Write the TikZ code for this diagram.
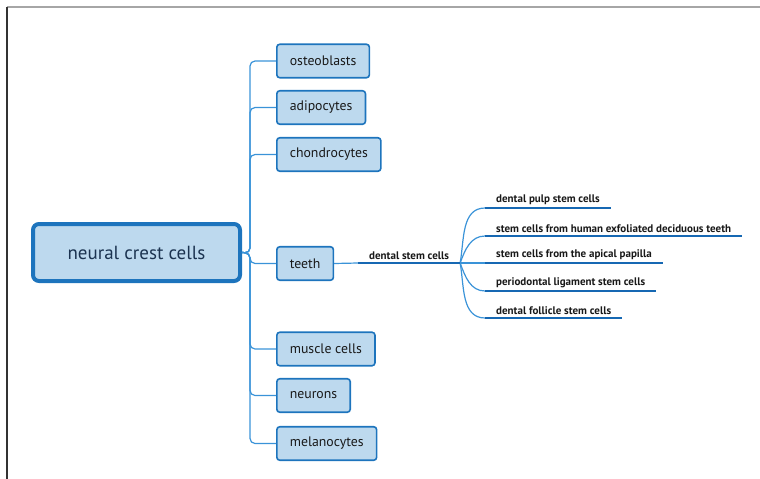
\documentclass[tikz,border=0pt]{standalone}
\usepackage{fontspec}
\setmainfont{PT Sans}
\usetikzlibrary{positioning}
\definecolor{boxblue}{HTML}{1D74BD}
\definecolor{boxfill}{HTML}{BDD9EE}
\definecolor{linkblue}{HTML}{3A93D8}
\definecolor{lineblue}{HTML}{1668B3}
\definecolor{txtnavy}{HTML}{1B3350}

\begin{document}
\begin{tikzpicture}[x=1pt, y=-1pt,
    cellbox/.style={draw=boxblue, line width=1.6pt, fill=boxfill, rounded corners=3pt, minimum height=33.5pt, anchor=west, inner xsep=13pt, font=\fontsize{13.8}{16}\selectfont, text=black!90},
    rootbox/.style={draw=boxblue, line width=4pt, fill=boxfill, rounded corners=6pt, minimum width=207pt, minimum height=57pt, font=\fontsize{19}{22}\selectfont, text=txtnavy},
    link/.style={draw=linkblue, line width=1.2pt, rounded corners=5pt},
    subitem/.style={anchor=south west, inner xsep=11pt, inner ysep=3pt, font=\bfseries\fontsize{11}{13}\selectfont, text=black!90},
    uline/.style={draw=lineblue, line width=2.4pt}]

    \useasboundingbox (0,0) rectangle (760,479);

    % Frame
    \draw[gray!70, line width=1.2pt] (7,7) -- (760,7);
    \draw[black!80, line width=1.2pt] (7,7) -- (7,479);

    % Root
    \node[rootbox] (root) at (136.5,252.5) {neural crest cells};
    \coordinate (hub) at (250,253);

    % Cell types
    \node[cellbox] (osteo) at (276,61) {osteoblasts};
    \node[cellbox] (adipo) at (276,107.5) {adipocytes};
    \node[cellbox] (chondro) at (276,154.5) {chondrocytes};
    \node[cellbox] (teeth) at (276,263.5) {teeth};
    \node[cellbox] (muscle) at (276,349) {muscle cells};
    \node[cellbox] (neuron) at (276,395.5) {neurons};
    \node[cellbox] (melano) at (276,443.5) {melanocytes};

    % Dental stem cells
    \node[subitem] (dsc) at (358,263) {dental stem cells};
    \node[subitem] (pulp) at (485,208) {dental pulp stem cells};
    \node[subitem] (exfol) at (485,236) {stem cells from human exfoliated deciduous teeth};
    \node[subitem] (apical) at (485,263) {stem cells from the apical papilla};
    \node[subitem] (perio) at (485,291) {periodontal ligament stem cells};
    \node[subitem] (follic) at (485,318) {dental follicle stem cells};

    % Branches
    \foreach \b in {osteo, adipo, chondro, teeth, muscle, neuron, melano}
        \draw[link] (root.east) -- (hub) |- (\b.west);
    \draw[link] (teeth.east) -- (dsc.south west);
    \draw[link] (dsc.south east) to[out=80, in=180] (pulp.south west);
    \draw[link] (dsc.south east) to[out=70, in=180] (exfol.south west);
    \draw[link] (dsc.south east) -- (apical.south west);
    \draw[link] (dsc.south east) to[out=-70, in=180] (perio.south west);
    \draw[link] (dsc.south east) to[out=-80, in=180] (follic.south west);

    % Underlines
    \foreach \s in {dsc, pulp, exfol, apical, perio, follic}
        \draw[uline] (\s.south west) -- (\s.south east);

\end{tikzpicture}
\end{document}
